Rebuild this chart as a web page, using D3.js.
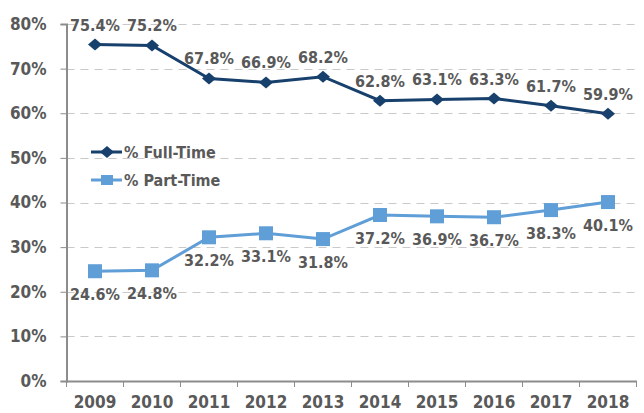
<!DOCTYPE html>
<html>
<head>
<meta charset="utf-8">
<script src="https://cdn.jsdelivr.net/npm/d3@7"></script>
<style>
  body { margin: 0; background: #fff; }
  text { font-family: "DejaVu Sans Condensed", "DejaVu Sans", sans-serif; font-weight: bold; fill: #595959; }
</style>
</head>
<body>
<svg id="chart" width="644" height="413"></svg>
<script>
// data
var years = ["2009","2010","2011","2012","2013","2014","2015","2016","2017","2018"];
var fullTime = [75.4, 75.2, 67.8, 66.9, 68.2, 62.8, 63.1, 63.3, 61.7, 59.9];
var partTime = [24.6, 24.8, 32.2, 33.1, 31.8, 37.2, 36.9, 36.7, 38.3, 40.1];
var yTicks = [0, 10, 20, 30, 40, 50, 60, 70, 80];

var svg = d3.select("#chart");
var plotLeft = 66.5, plotRight = 636.5, plotTop = 24, plotBottom = 381;

var x = d3.scaleBand().domain(years).range([plotLeft, plotRight]);
var y = d3.scaleLinear().domain([0, 80]).range([plotBottom, plotTop]);

// grid lines
svg.selectAll(".grid")
    .data(yTicks.filter(function(d){ return d > 0; }))
    .enter().append("line")
    .attr("x1", plotLeft).attr("x2", plotRight + 2)
    .attr("y1", function(d){ return Math.round(y(d)) + 0.5; })
    .attr("y2", function(d){ return Math.round(y(d)) + 0.5; })
    .style("stroke", "#c9c9c9")
    .style("stroke-width", 1)
    .style("stroke-dasharray", "8,6");

// y axis
var yAxis = svg.append("g")
    .attr("transform", "translate(" + plotLeft + ",0)")
    .call(d3.axisLeft(y).tickValues(yTicks).tickSize(6).tickPadding(14)
        .tickFormat(function(d){ return d + "%"; }));
yAxis.select(".domain").style("stroke", "#8c8c8c").style("stroke-width", 2);
yAxis.selectAll(".tick line").style("stroke", "#8c8c8c");
yAxis.selectAll("text").style("font-size", "17px");

// x axis
var xAxis = svg.append("g")
    .attr("transform", "translate(0," + plotBottom + ")")
    .call(d3.axisBottom(x).tickSize(0).tickPadding(15));
xAxis.select(".domain").style("stroke", "#8c8c8c").style("stroke-width", 2);
xAxis.selectAll("text").style("font-size", "17px");
// category boundary ticks
svg.selectAll(".xtick")
    .data(d3.range(years.length + 1))
    .enter().append("line")
    .attr("x1", function(i){ return plotLeft + i * x.step(); })
    .attr("x2", function(i){ return plotLeft + i * x.step(); })
    .attr("y1", plotBottom).attr("y2", plotBottom + 6)
    .style("stroke", "#8c8c8c");

function cx(i){ return x(years[i]) + x.bandwidth() / 2; }

var line = d3.line()
    .x(function(d, i){ return cx(i); })
    .y(function(d){ return y(d); });

var fullColor = "#17406d", partColor = "#5f9ed6";
var diamondPath = "M-7,0L0,-6L7,0L0,6Z";

// part-time series
svg.append("path").datum(partTime)
    .attr("d", line).attr("fill", "none")
    .style("stroke", partColor).style("stroke-width", 3);
svg.selectAll(".psq").data(partTime).enter().append("rect")
    .attr("x", function(d, i){ return cx(i) - 7; })
    .attr("y", function(d){ return y(d) - 7; })
    .attr("width", 14).attr("height", 14)
    .attr("fill", partColor);
svg.selectAll(".plab").data(partTime).enter().append("text")
    .attr("x", function(d, i){ return cx(i); })
    .attr("y", function(d){ return y(d) + 29; })
    .attr("text-anchor", "middle")
    .style("font-size", "16px")
    .text(function(d){ return d.toFixed(1) + "%"; });

// full-time series
svg.append("path").datum(fullTime)
    .attr("d", line).attr("fill", "none")
    .style("stroke", fullColor).style("stroke-width", 3);
svg.selectAll(".fdm").data(fullTime).enter().append("path")
    .attr("d", diamondPath)
    .attr("transform", function(d, i){ return "translate(" + cx(i) + "," + y(d) + ")"; })
    .attr("fill", fullColor);
svg.selectAll(".flab").data(fullTime).enter().append("text")
    .attr("x", function(d, i){ return cx(i); })
    .attr("y", function(d){ return y(d) - 14; })
    .attr("text-anchor", "middle")
    .style("font-size", "16px")
    .text(function(d){ return d.toFixed(1) + "%"; });

// legend
var legend = [
    {name: "% Full-Time", color: fullColor, y: 152, shape: "diamond"},
    {name: "% Part-Time", color: partColor, y: 180, shape: "square"}
];
var lg = svg.selectAll(".leg").data(legend).enter().append("g");
lg.append("line")
    .attr("x1", 91).attr("x2", 122)
    .attr("y1", function(d){ return d.y; }).attr("y2", function(d){ return d.y; })
    .style("stroke", function(d){ return d.color; }).style("stroke-width", 3);
lg.append("path")
    .attr("d", function(d){
        return d.shape === "diamond" ? diamondPath : "M-6,-5H6V5H-6Z";
    })
    .attr("transform", function(d){ return "translate(107," + d.y + ")"; })
    .attr("fill", function(d){ return d.color; });
lg.append("text")
    .attr("x", 124).attr("y", function(d){ return d.y + 6; })
    .style("font-size", "16px")
    .text(function(d){ return d.name; });
</script>
</body>
</html>
